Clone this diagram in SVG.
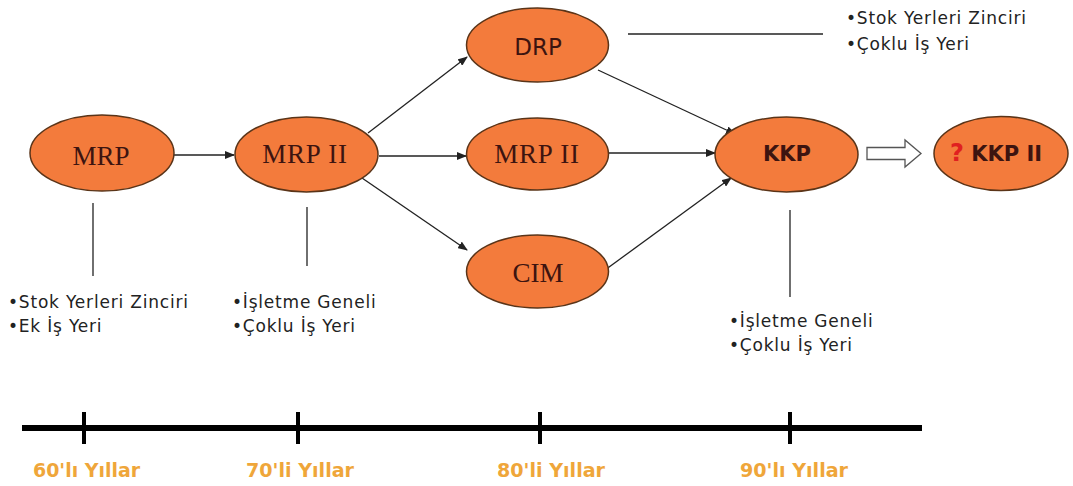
<svg xmlns="http://www.w3.org/2000/svg" width="1073" height="486" viewBox="0 0 1073 486">
<defs>
<style>
.node{fill:#F37B3C;stroke:#5a3418;stroke-width:1.5}
.serif{font-family:"Liberation Serif","DejaVu Serif",serif;font-size:27px;fill:#3d1410;text-anchor:middle}
.sans{font-family:"DejaVu Sans","Liberation Sans",sans-serif;font-size:23px;fill:#3d1410;text-anchor:middle}
.bold{font-family:"DejaVu Sans","Liberation Sans",sans-serif;font-size:21px;font-weight:bold;fill:#3d1410;text-anchor:middle}
.note{font-family:"DejaVu Sans","Liberation Sans",sans-serif;font-size:17px;letter-spacing:0.8px;fill:#222}
.yr{font-family:"Liberation Sans Narrow","DejaVu Sans Condensed","Liberation Sans",sans-serif;font-size:19px;fill:#EFA63A;font-weight:bold}
.ln{stroke:#222;stroke-width:1.3;fill:none}
</style>
<marker id="ah" markerWidth="10" markerHeight="8" refX="9" refY="4" orient="auto" markerUnits="userSpaceOnUse">
<path d="M0,0 L10,4 L0,8 Z" fill="#222"/>
</marker>
</defs>
<rect width="1073" height="486" fill="#fff"/>
<g id="connectors">
<line class="ln" x1="174" y1="155" x2="234" y2="155" marker-end="url(#ah)"/>
<line class="ln" x1="368" y1="133" x2="467" y2="57" marker-end="url(#ah)"/>
<line class="ln" x1="379" y1="156" x2="466" y2="156" marker-end="url(#ah)"/>
<line class="ln" x1="362" y1="178" x2="467" y2="250" marker-end="url(#ah)"/>
<line class="ln" x1="598" y1="70" x2="735" y2="134" marker-end="url(#ah)"/>
<line class="ln" x1="609" y1="153" x2="715" y2="153" marker-end="url(#ah)"/>
<line class="ln" x1="605" y1="270" x2="731" y2="178" marker-end="url(#ah)"/>
<line class="ln" x1="628" y1="34" x2="823" y2="34"/>
<line class="ln" x1="93" y1="203" x2="93" y2="276"/>
<line class="ln" x1="307" y1="207" x2="307" y2="266"/>
<line class="ln" x1="790" y1="210" x2="790" y2="297"/>
<path d="M867,147.5 H905 V140 L921,153.5 L905,167 V159.5 H867 Z" fill="#fff" stroke="#555" stroke-width="1.3"/>
</g>
<g id="mrp"><ellipse class="node" cx="102" cy="153" rx="72" ry="38"/><text class="serif" x="101" y="165">MRP</text></g>
<g id="mrp2"><ellipse class="node" cx="306.5" cy="154.5" rx="71.5" ry="37.5"/><text class="serif" x="305" y="163" letter-spacing="0.8">MRP II</text></g>
<g id="drp"><ellipse class="node" cx="537.5" cy="45" rx="71" ry="37"/><text class="sans" x="538" y="55">DRP</text></g>
<g id="mrp2b"><ellipse class="node" cx="537.5" cy="154" rx="71" ry="36"/><text class="serif" x="537" y="163" letter-spacing="0.8">MRP II</text></g>
<g id="cim"><ellipse class="node" cx="537.5" cy="271.5" rx="71" ry="36.5"/><text class="serif" x="538" y="282">CIM</text></g>
<g id="kkp"><ellipse class="node" cx="786.5" cy="154.5" rx="71.5" ry="37.5"/><text class="bold" x="787" y="161">KKP</text></g>
<g id="kkp2"><ellipse class="node" cx="1001" cy="153.5" rx="67" ry="37"/><text class="bold" x="996" y="161"><tspan fill="#E02020" font-size="24px">?</tspan> KKP II</text></g>
<g id="notes">
<text class="note" x="8" y="308">•Stok Yerleri Zinciri</text>
<text class="note" x="8" y="332">•Ek İş Yeri</text>
<text class="note" x="232" y="308">•İşletme Geneli</text>
<text class="note" x="232" y="332">•Çoklu İş Yeri</text>
<text class="note" x="729" y="327">•İşletme Geneli</text>
<text class="note" x="729" y="351">•Çoklu İş Yeri</text>
<text class="note" x="846" y="24">•Stok Yerleri Zinciri</text>
<text class="note" x="846" y="50">•Çoklu İş Yeri</text>
</g>
<g id="timeline">
<line x1="22" y1="428" x2="922" y2="428" stroke="#000" stroke-width="6"/>
<line x1="84" y1="412" x2="84" y2="444" stroke="#000" stroke-width="4"/>
<line x1="298" y1="412" x2="298" y2="444" stroke="#000" stroke-width="4"/>
<line x1="540" y1="412" x2="540" y2="444" stroke="#000" stroke-width="4"/>
<line x1="790" y1="412" x2="790" y2="444" stroke="#000" stroke-width="4"/>
<text class="yr" x="33" y="477" textLength="107" lengthAdjust="spacingAndGlyphs">60'lı Yıllar</text>
<text class="yr" x="246" y="477" textLength="108" lengthAdjust="spacingAndGlyphs">70'li Yıllar</text>
<text class="yr" x="497" y="477" textLength="108" lengthAdjust="spacingAndGlyphs">80'li Yıllar</text>
<text class="yr" x="740" y="477" textLength="108" lengthAdjust="spacingAndGlyphs">90'lı Yıllar</text>
</g>
</svg>
